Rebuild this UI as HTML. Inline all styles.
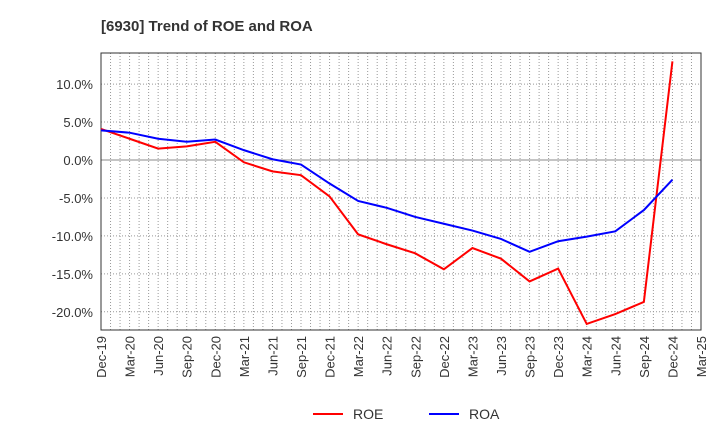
<!DOCTYPE html>
<html><head><meta charset="utf-8"><style>body{margin:0;background:#fff}svg{display:block}text{font-family:"Liberation Sans",sans-serif}</style></head>
<body>
<svg id="chart" width="720" height="440" xmlns="http://www.w3.org/2000/svg">
<text x="101" y="31" font-size="15" font-weight="bold" fill="#333">[6930]  Trend of ROE and ROA</text>
<g id="grid"></g><g id="axes"></g><g id="series"></g>
<g>
<line x1="313" y1="414" x2="343" y2="414" stroke="#f00" stroke-width="2"/>
<text x="353" y="419" font-size="14" fill="#333">ROE</text>
<line x1="429" y1="414" x2="459" y2="414" stroke="#00f" stroke-width="2"/>
<text x="469" y="419" font-size="14" fill="#333">ROA</text>
</g>
</svg>
<script>
const categories=["Dec-19","Mar-20","Jun-20","Sep-20","Dec-20","Mar-21","Jun-21","Sep-21","Dec-21","Mar-22","Jun-22","Sep-22","Dec-22","Mar-23","Jun-23","Sep-23","Dec-23","Mar-24","Jun-24","Sep-24","Dec-24","Mar-25"];
const roe=[4.1,2.8,1.5,1.8,2.4,-0.3,-1.5,-2.0,-4.8,-9.8,-11.1,-12.3,-14.4,-11.6,-13.0,-16.0,-14.3,-21.6,-20.3,-18.7,13.0];
const roa=[3.9,3.6,2.8,2.4,2.7,1.3,0.1,-0.6,-3.1,-5.4,-6.3,-7.5,-8.4,-9.3,-10.4,-12.1,-10.7,-10.1,-9.4,-6.6,-2.6];
const yTicks=[10,5,0,-5,-10,-15,-20];
const yTickLabels=["10.0%","5.0%","0.0%","-5.0%","-10.0%","-15.0%","-20.0%"];
const L=101,R=701,T=53,B=330,ymax=14.1,ymin=-22.4;
const x=i=>L+i*(R-L)/(categories.length-1);
const y=v=>T+(ymax-v)/(ymax-ymin)*(B-T);
const NS="http://www.w3.org/2000/svg";
function mk(p,tag,a){const e=document.createElementNS(NS,tag);for(const k in a)e.setAttribute(k,a[k]);p.appendChild(e);return e;}
const grid=document.getElementById('grid'),axes=document.getElementById('axes'),ser=document.getElementById('series');
const months=(categories.length-1)*3;
for(let m=1;m<months;m++){const xx=L+m*(R-L)/months;const l=mk(grid,'line',{x1:xx,x2:xx,y1:T,y2:B,stroke:'#999','stroke-width':1,'stroke-dasharray':'1,2'});

}
yTicks.forEach((v,i)=>{const yy=y(v);const l=mk(grid,'line',{x1:L,x2:R,y1:yy,y2:yy,stroke:v===0?'#888':'#999','stroke-width':1,'stroke-dasharray':v===0?'none':'1,2'});


const t=mk(axes,'text',{x:L-8,y:yy+5,'text-anchor':'end','font-size':13,fill:'#333'});t.textContent=yTickLabels[i];

});
const fr=mk(axes,'rect',{x:L,y:T,width:R-L,height:B-T,fill:'none',stroke:'#333','stroke-width':1});


categories.forEach((c,i)=>{const t=mk(axes,'text',{transform:`translate(${x(i)+5},${B+6}) rotate(-90)`,'text-anchor':'end','font-size':13,fill:'#333'});t.textContent=c;

});
[[roe,'#f00','roe-line'],[roa,'#00f','roa-line']].forEach(([d,c,n])=>{const p=mk(ser,'polyline',{points:d.map((v,i)=>x(i)+','+y(v)).join(' '),fill:'none',stroke:c,'stroke-width':2});

});
</script>
</body></html>
